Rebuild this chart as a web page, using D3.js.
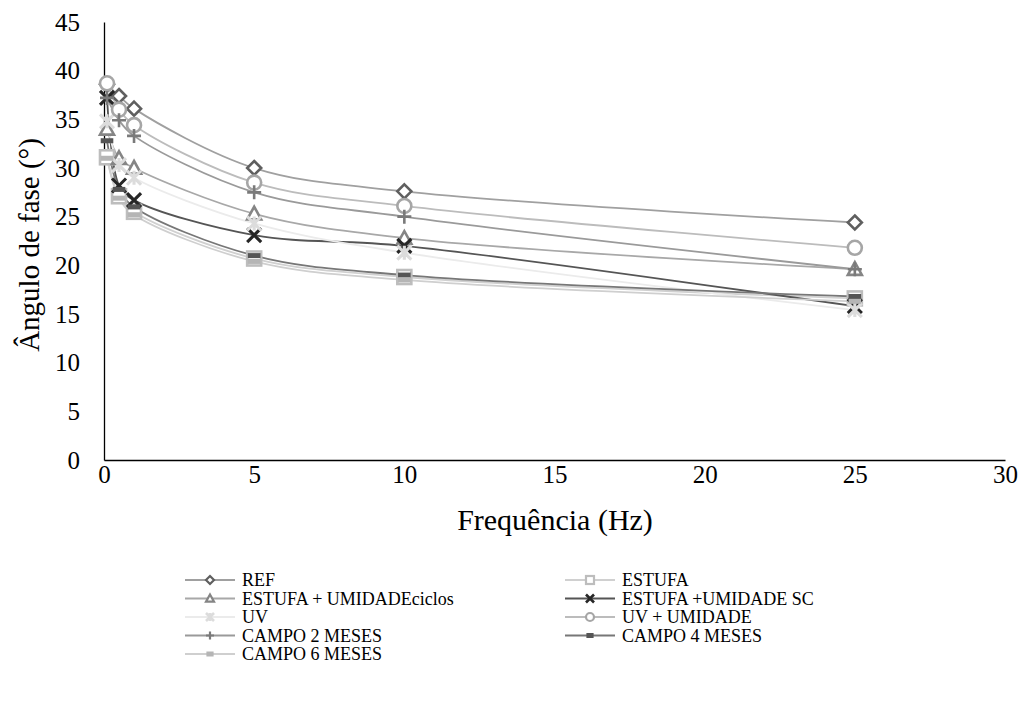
<!DOCTYPE html>
<html><head><meta charset="utf-8">
<script src="https://cdn.jsdelivr.net/npm/d3@7"></script>
<style>body{margin:0;background:#fff} text{font-family:"Times New Roman","Liberation Serif",serif;}</style></head>
<body><svg id="c" width="1029" height="720"></svg>
<script>
const freqs = [0.1, 0.5, 1, 5, 10, 25];
const seriesNames = ["REF","ESTUFA","ESTUFA + UMIDADEciclos","ESTUFA +UMIDADE SC","UV","UV + UMIDADE","CAMPO 2 MESES","CAMPO 4 MESES","CAMPO 6 MESES"];
const refVals      = [38.6, 37.4, 36.1, 30.0, 27.6, 24.4];
const estufaVals   = [31.1, 27.1, 25.5, 20.7, 18.8, 16.6];
const estUmCiclos  = [34.0, 31.0, 30.0, 25.3, 22.8, 19.6];
const estUmSC      = [37.2, 28.2, 26.7, 23.1, 22.0, 15.8];
const uvVals       = [34.8, 30.3, 29.0, 24.3, 21.3, 15.4];
const uvUmVals     = [38.7, 36.0, 34.4, 28.5, 26.1, 21.8];
const campo2Vals   = [37.2, 34.9, 33.3, 27.5, 25.0, 19.6];
const campo4Vals   = [32.8, 27.8, 26.0, 21.0, 19.0, 16.8];
const campo6Vals   = [31.0, 26.9, 25.2, 20.4, 18.5, 16.3];
const xTicks = [0,5,10,15,20,25,30];
const yTicks = [0,5,10,15,20,25,30,35,40,45];

const allVals=[refVals,estufaVals,estUmCiclos,estUmSC,uvVals,uvUmVals,campo2Vals,campo4Vals,campo6Vals];
const markers=["diamond","square","triangle","x","star","circle","plus","dash","dash"];
const markerColors=["#5f5f5f","#bdbdbd","#858585","#262626","#dcdcdc","#a6a6a6","#7a7a7a","#555555","#b5b5b5"];
const lineColors  =["#a0a0a0","#d0d0d0","#a8a8a8","#555555","#ebebeb","#bcbcbc","#9a9a9a","#777777","#cfcfcf"];

const svg=d3.select("#c");
const x=d3.scaleLinear().domain([0,30]).range([104,1005]);
const y=d3.scaleLinear().domain([0,45]).range([460,22]);

const gx=svg.append("g").attr("transform","translate(0,460)").call(d3.axisBottom(x).tickValues(xTicks).tickSize(0).tickPadding(5));
const gy=svg.append("g").attr("transform","translate(104,0)").call(d3.axisLeft(y).tickValues(yTicks).tickSize(0).tickPadding(24));
[gx,gy].forEach(g=>{g.attr("font-family",null);g.select(".domain").attr("stroke","#000").attr("stroke-width",1.3);
 g.selectAll("text").attr("font-size",25).attr("fill","#000");});

svg.append("text").attr("x",555).attr("y",530).attr("text-anchor","middle").attr("font-size",30).text("Frequência (Hz)");
svg.append("text").attr("transform","translate(39,245) rotate(-90)").attr("text-anchor","middle").attr("font-size",29).text("Ângulo de fase (°)");

function drawMarker(g,type,color,s,sw){
  const h=s/2;
  if(type==="diamond") g.append("path").attr("d",`M0,${-h}L${h},0L0,${h}L${-h},0Z`).attr("fill","#fff").attr("stroke",color).attr("stroke-width",sw);
  else if(type==="square") g.append("rect").attr("x",-h).attr("y",-h).attr("width",s).attr("height",s).attr("fill","#fff").attr("stroke",color).attr("stroke-width",sw);
  else if(type==="triangle") g.append("path").attr("d",`M0,${-h}L${h},${h*0.8}L${-h},${h*0.8}Z`).attr("fill","#fff").attr("stroke",color).attr("stroke-width",sw);
  else if(type==="circle") g.append("circle").attr("r",h).attr("fill","#fff").attr("stroke",color).attr("stroke-width",sw);
  else if(type==="x") g.append("path").attr("d",`M${-h},${-h}L${h},${h}M${-h},${h}L${h},${-h}`).attr("stroke",color).attr("stroke-width",sw*1.2);
  else if(type==="star") g.append("path").attr("d",`M${-h},${-h}L${h},${h}M${-h},${h}L${h},${-h}M0,${-h}L0,${h}`).attr("stroke",color).attr("stroke-width",sw*1.2);
  else if(type==="plus") g.append("path").attr("d",`M${-h},0L${h},0M0,${-h}L0,${h}`).attr("stroke",color).attr("stroke-width",sw);
  else if(type==="dash") g.append("rect").attr("x",-h*0.9).attr("y",-2.5).attr("width",s*0.9).attr("height",5).attr("fill",color);
}

const line=d3.line().x((d,i)=>x(freqs[i])).y(d=>y(d)).curve(d3.curveCatmullRom.alpha(0.5));
allVals.forEach((vals,k)=>{
  svg.append("path").attr("d",line(vals)).attr("fill","none").attr("stroke",lineColors[k]).attr("stroke-width",1.8);
});
allVals.forEach((vals,k)=>{
  vals.forEach((v,i)=>{
    const g=svg.append("g").attr("transform",`translate(${x(freqs[i])},${y(v)})`);
    drawMarker(g,markers[k],markerColors[k],14,2.6);
  });
});

const legCols=[185,565], legY0=580, legDy=18.5;
seriesNames.forEach((n,k)=>{
  const col=k%2, row=Math.floor(k/2);
  const lx=legCols[col], ly=legY0+row*legDy;
  svg.append("line").attr("x1",lx).attr("x2",lx+50).attr("y1",ly).attr("y2",ly).attr("stroke",lineColors[k]).attr("stroke-width",1.8);
  const g=svg.append("g").attr("transform",`translate(${lx+25},${ly})`);
  drawMarker(g,markers[k],markerColors[k],8,2.2);
  svg.append("text").attr("x",lx+57).attr("y",ly).attr("dy","0.35em").attr("font-size",18).text(n);
});
</script></body></html>
